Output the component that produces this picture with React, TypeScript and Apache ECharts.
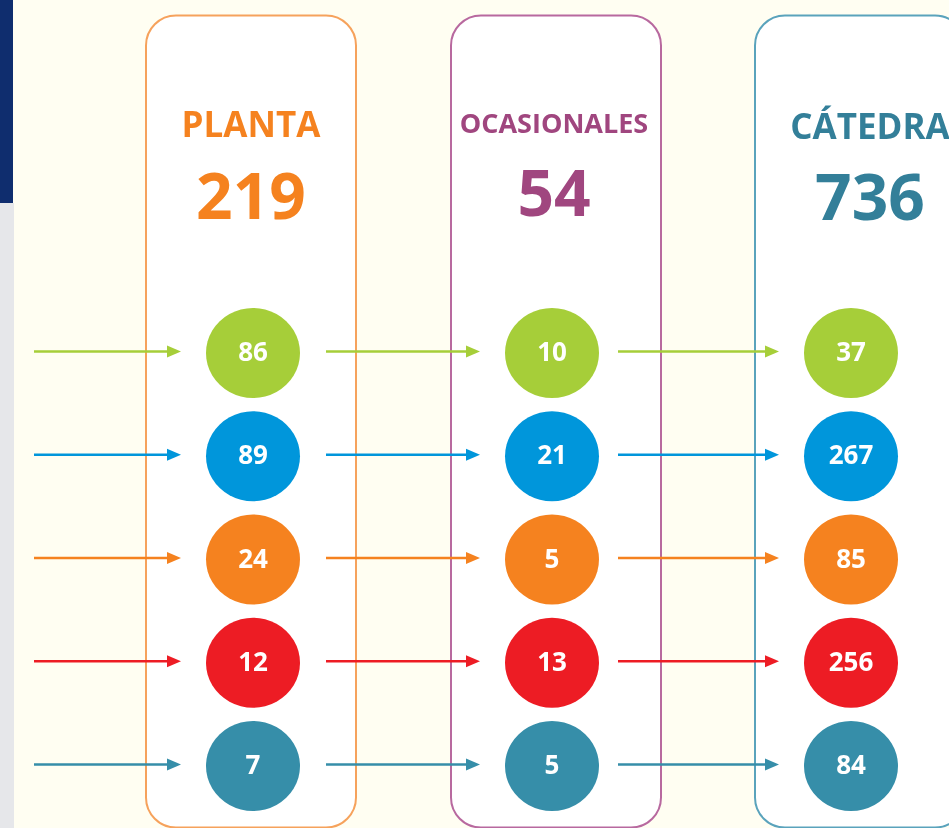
import React, { useEffect, useRef } from "react";
import * as echarts from "echarts";

const columns = ["PLANTA", "OCASIONALES", "CÁTEDRA"];
const totals = [219, 54, 736];
const rows = ["Fila 1", "Fila 2", "Fila 3", "Fila 4", "Fila 5"];
const plantaValues = [86, 89, 24, 12, 7];
const ocasionalesValues = [10, 21, 5, 13, 5];
const catedraValues = [37, 267, 85, 256, 84];

const rowColors = ["#A6CE39", "#0096DB", "#F5821F", "#ED1C24", "#368EA9"];
const titleColors = ["#F5821F", "#A0467F", "#337F99"];
const boxStrokes = ["#F6A25C", "#B8699F", "#5AA3BC"];

export default function App() {
  const ref = useRef<HTMLDivElement>(null);
  useEffect(() => {
    if (!ref.current) return;
    const chart = echarts.init(ref.current, null, { renderer: "svg", width: 949, height: 828 });
    const colValues = [plantaValues, ocasionalesValues, catedraValues];
    const circleData: any[] = [];
    const arrowData: any[] = [];
    colValues.forEach((vals, c) => {
      vals.forEach((v, r) => {
        circleData.push({ value: [c, r, v], itemStyle: { color: rowColors[r], opacity: 1 } });
        arrowData.push([c, r]);
      });
    });

    const boxX = [146, 451, 755];
    const titleX = [251, 554, 870];
    const titleY = [123.5, 122, 125.5];
    const titleSize = [35, 27, 35];
    const numY = [194, 191.5, 195];

    const graphics: any[] = [
      { type: "rect", shape: { x: 0, y: 0, width: 949, height: 828 }, style: { fill: "#FFFEF2" }, z: -10 },
      { type: "rect", shape: { x: 0, y: 0, width: 13, height: 203 }, style: { fill: "#0F2D6E" }, z: -9 },
      { type: "rect", shape: { x: 0, y: 203, width: 14, height: 625 }, style: { fill: "#E6E7EA" }, z: -9 },
    ];
    columns.forEach((name, i) => {
      graphics.push({
        type: "rect",
        shape: { x: boxX[i], y: 15.5, width: 210, height: 812, r: 30 },
        style: { fill: "#FFFFFF", stroke: boxStrokes[i], lineWidth: 2 },
        z: -5,
      });
      graphics.push({
        type: "text",
        x: titleX[i],
        y: titleY[i],
        style: {
          text: name,
          fill: titleColors[i],
          font: `bold ${titleSize[i]}px "Open Sans"`,
          textAlign: "center",
          textVerticalAlign: "middle",
        },
        z: 5,
      });
      graphics.push({
        type: "text",
        x: titleX[i],
        y: numY[i],
        style: {
          text: String(totals[i]),
          fill: titleColors[i],
          font: `bold 64px "Open Sans"`,
          textAlign: "center",
          textVerticalAlign: "middle",
        },
        z: 5,
      });
    });

    chart.setOption({
      animation: false,
      graphic: graphics,
      grid: { left: 253, right: 98, top: 353, bottom: 62 },
      xAxis: { type: "category", data: columns, show: false, boundaryGap: false },
      yAxis: { type: "category", data: rows, inverse: true, show: false, boundaryGap: false },
      series: [
        {
          type: "custom",
          z: 3,
          clip: false,
          data: arrowData,
          renderItem: (params: any, api: any) => {
            const c = api.value(0);
            const p = api.coord([c, api.value(1)]);
            const color = rowColors[api.value(1)];
            const tip = p[0] - 72;
            const start = p[0] - 219 - 7 * c;
            const y = p[1] - 1.5;
            return {
              type: "group",
              children: [
                {
                  type: "line",
                  shape: { x1: start, y1: y, x2: tip - 10, y2: y },
                  style: { stroke: color, lineWidth: 2.5 },
                },
                {
                  type: "polygon",
                  shape: { points: [[tip - 14, y - 6], [tip, y], [tip - 14, y + 6]] },
                  style: { fill: color },
                },
              ],
            };
          },
        },
        {
          type: "scatter",
          z: 4,
          clip: false,
          symbol: "circle",
          symbolSize: [94, 90],
          data: circleData,
          label: {
            show: true,
            position: "inside",
            formatter: (p: any) => String(p.value[2]),
            color: "#FFFFFF",
            fontFamily: "Open Sans",
            fontWeight: "bold",
            fontSize: 26,
            offset: [0, -2],
          },
        },
      ],
    });
    return () => chart.dispose();
  }, []);
  return <div ref={ref} style={{ position: "fixed", left: 0, top: 0, width: 949, height: 828 }} />;
}
